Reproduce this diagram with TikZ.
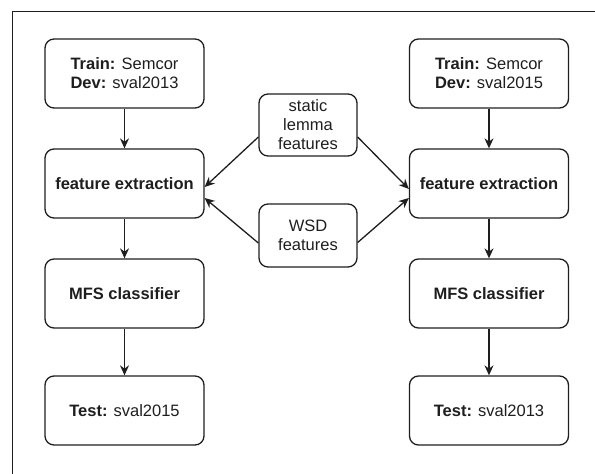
\documentclass[tikz,border=0pt]{standalone}
\usepackage{fontspec}
\setmainfont{Liberation Sans}
\usetikzlibrary{arrows.meta,calc}
\definecolor{ink}{HTML}{1E1E1E}
\tikzset{
  box/.style={draw=ink, line width=1.3pt, rounded corners=9pt, align=center,
    inner sep=0pt, text=ink, font=\fontsize{16.5}{19}\selectfont},
  colbox/.style={box, minimum width=159pt, minimum height=69pt},
  midbox/.style={box, minimum width=98pt, minimum height=62pt},
  flow/.style={draw=ink, line width=1.3pt, -{Stealth[length=10pt,width=9pt]}}
}
\begin{document}
\begin{tikzpicture}[x=1pt,y=-1pt]
  \useasboundingbox (0,0) rectangle (595,474);
  % frame: only the top and left edges fall inside the page
  \draw[ink, line width=1pt] (12,480) -- (12,11) -- (600,11);

  % left pipeline
  \node[colbox] (trainA) at (124.5,73.5) {\textbf{Train:} Semcor\\\textbf{Dev:} sval2013};
  \node[colbox] (featA)  at (124.5,183.5) {\textbf{feature extraction}};
  \node[colbox] (mfsA)   at (124.5,293.5) {\textbf{MFS classifier}};
  \node[colbox] (testA)  at (124.5,410.5) {\textbf{Test:} sval2015};

  % right pipeline
  \node[colbox] (trainB) at (489,73.5) {\textbf{Train:} Semcor\\\textbf{Dev:} sval2015};
  \node[colbox] (featB)  at (489,183.5) {\textbf{feature extraction}};
  \node[colbox] (mfsB)   at (489,293.5) {\textbf{MFS classifier}};
  \node[colbox] (testB)  at (489,410.5) {\textbf{Test:} sval2013};

  % shared feature sources
  \node[midbox] (lemma) at (308,125) {static\\lemma\\features};
  \node[midbox, minimum height=63pt] (wsd) at (308,235.5) {WSD\\features};

  \draw[flow] (trainA) -- (featA);
  \draw[flow] (featA) -- (mfsA);
  \draw[flow] (mfsA) -- (testA);
  \draw[flow] (trainB) -- (featB);
  \draw[flow] (featB) -- (mfsB);
  \draw[flow] (mfsB) -- (testB);

  \draw[flow] ($(lemma.west)+(0,12)$) -- ($(featA.east)+(0,3.5)$);
  \draw[flow] ($(wsd.west)+(0,7.5)$) -- ($(featA.east)+(0,14.5)$);
  \draw[flow] ($(lemma.east)+(0,12)$) -- ($(featB.west)+(0,5.5)$);
  \draw[flow] ($(wsd.east)+(0,7)$) -- ($(featB.west)+(0,14.5)$);
\end{tikzpicture}
\end{document}
